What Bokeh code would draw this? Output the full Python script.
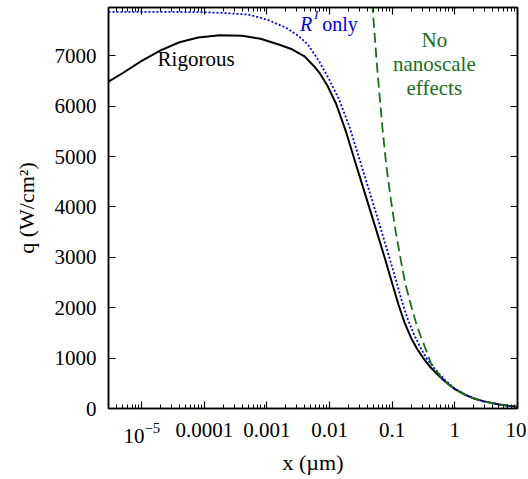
from bokeh.plotting import figure
from bokeh.models import (Range1d, LogAxis, LinearAxis, FixedTicker, LogTickFormatter, Label)
from bokeh.embed import file_html
from bokeh.resources import INLINE

# ---- data ----
x_rig = [2.95e-6, 5e-6, 1e-5, 2e-5, 4e-5, 8e-5, 1.78e-4, 4e-4, 7.9e-4, 1.58e-3, 2.51e-3,
         3.98e-3, 5.6e-3, 7e-3, 9.3e-3, 0.0126, 0.0182, 0.0263, 0.038, 0.055, 0.0794, 0.1,
         0.126, 0.158, 0.2, 0.25, 0.324, 0.4, 0.525, 0.72, 1, 1.5, 2, 3, 5, 7, 10]
q_rig = [6490, 6660, 6900, 7110, 7270, 7365, 7410, 7400, 7340, 7220, 7130,
         6990, 6800, 6650, 6400, 6060, 5500, 4850, 4205, 3560, 2910, 2480,
         2060, 1700, 1400, 1180, 975, 830, 680, 520, 385, 265, 200, 137, 82, 56, 36]

x_rp = [2.95e-6, 3.16e-5, 1e-4, 2e-4, 5e-4, 1e-3, 2e-3, 3.16e-3, 4.47e-3, 6.76e-3,
        9.77e-3, 0.0141, 0.0204, 0.0295, 0.0427, 0.0617, 0.0891, 0.114, 0.141, 0.178,
        0.224, 0.282, 0.355, 0.447, 0.562, 0.708, 1, 1.5, 2, 3, 5, 7, 10]
q_rp = [7872, 7872, 7865, 7852, 7820, 7720, 7560, 7400, 7230, 6900,
        6540, 6140, 5620, 4980, 4330, 3680, 3010, 2560, 2150, 1760,
        1460, 1210, 990, 830, 690, 555, 395, 268, 202, 138, 82, 56, 36]

x_nn = [0.046, 0.05, 0.0566, 0.07, 0.08, 0.095, 0.114, 0.137, 0.16, 0.197, 0.24, 0.285,
        0.35, 0.41, 0.5, 0.6, 0.8, 1, 1.5, 2.57, 4, 7.8, 10]
q_nn = [8350, 7750, 6860, 5550, 4850, 4150, 3500, 2950, 2500, 2070, 1700, 1430,
        1150, 910, 760, 620, 470, 385, 260, 160, 100, 47, 36]

x_major = [1e-5, 1e-4, 1e-3, 1e-2, 1e-1, 1, 10]
y_major = [0, 1000, 2000, 3000, 4000, 5000, 6000, 7000]

FONT = "Liberation Serif"
BLUE = "#0000e6"
GREEN = "#1a6e1a"

x_minor = [m * 10.0 ** e for e in range(-6, 1) for m in range(2, 10)]

p = figure(width=526, height=477, x_axis_type="log",
           x_range=Range1d(2.95e-6, 10), y_range=Range1d(0, 7960),
           output_backend="svg", toolbar_location=None,
           min_border_left=108, min_border_right=9,
           min_border_top=7, min_border_bottom=60)
p.grid.visible = False
p.outline_line_color = "black"
p.outline_line_width = 1.5
p.background_fill_color = "white"
p.border_fill_color = "white"

xt = FixedTicker(ticks=x_major, minor_ticks=x_minor)
yt = FixedTicker(ticks=y_major, minor_ticks=[])


def style(ax, show_labels):
    ax.axis_line_color = "black"
    ax.axis_line_width = 1.5
    ax.major_tick_in = 7
    ax.major_tick_out = 0
    ax.major_tick_line_width = 1.2
    ax.minor_tick_in = 4
    ax.minor_tick_out = 0
    ax.minor_tick_line_width = 1
    ax.major_label_text_font = FONT
    ax.major_label_text_color = "black"
    ax.axis_label_text_font = FONT
    ax.axis_label_text_font_style = "normal"
    ax.axis_label_text_color = "black"
    ax.axis_label_text_font_size = "22px"
    if show_labels:
        ax.major_label_text_font_size = "21px"
    else:
        ax.axis_label = None
        ax.major_label_text_font_size = "1px"
        ax.major_label_text_alpha = 0
        ax.major_label_standoff = 0


xb = p.xaxis[0]
xb.ticker = xt
xb.formatter = LogTickFormatter(min_exponent=5)
style(xb, True)
xb.major_label_standoff = 14
xb.axis_label = "x (\u00b5m)"
xb.axis_label_standoff = 4

yl = p.yaxis[0]
yl.ticker = yt
style(yl, True)
yl.major_label_standoff = 12
yl.axis_label = "q (W/cm\u00b2)"
yl.axis_label_standoff = 13

xtop = LogAxis(ticker=xt)
style(xtop, False)
p.add_layout(xtop, "above")

yr = LinearAxis(ticker=yt)
style(yr, False)
p.add_layout(yr, "right")

p.line(x_rig, q_rig, line_color="black", line_width=2)
p.line(x_rp, q_rp, line_color=BLUE, line_width=1.8, line_dash="2 2")
p.line(x_nn, q_nn, line_color=GREEN, line_width=1.8, line_dash="10 5")


def lab(x, y, text, color="black", size="21px", style_="normal", align="left"):
    p.add_layout(Label(x=x, y=y, text=text,
                       text_font=FONT, text_font_size=size, text_color=color,
                       text_font_style=style_, text_align=align,
                       text_baseline="alphabetic"))


# in-plot annotations
lab(1.79e-5, 6940, "Rigorous")
lab(3.36e-3, 7640, "R", color=BLUE, size="20px", style_="italic")
lab(5.64e-3, 7815, "I", color=BLUE, size="13px", style_="italic")
lab(7.6e-3, 7640, "only", color=BLUE, size="20px")
lab(0.47, 7310, "No", color=GREEN, align="center")
lab(0.47, 6833, "nanoscale", color=GREEN, align="center")
lab(0.47, 6366, "effects", color=GREEN, align="center")

open("out.html", "w").write(file_html(p, INLINE))
